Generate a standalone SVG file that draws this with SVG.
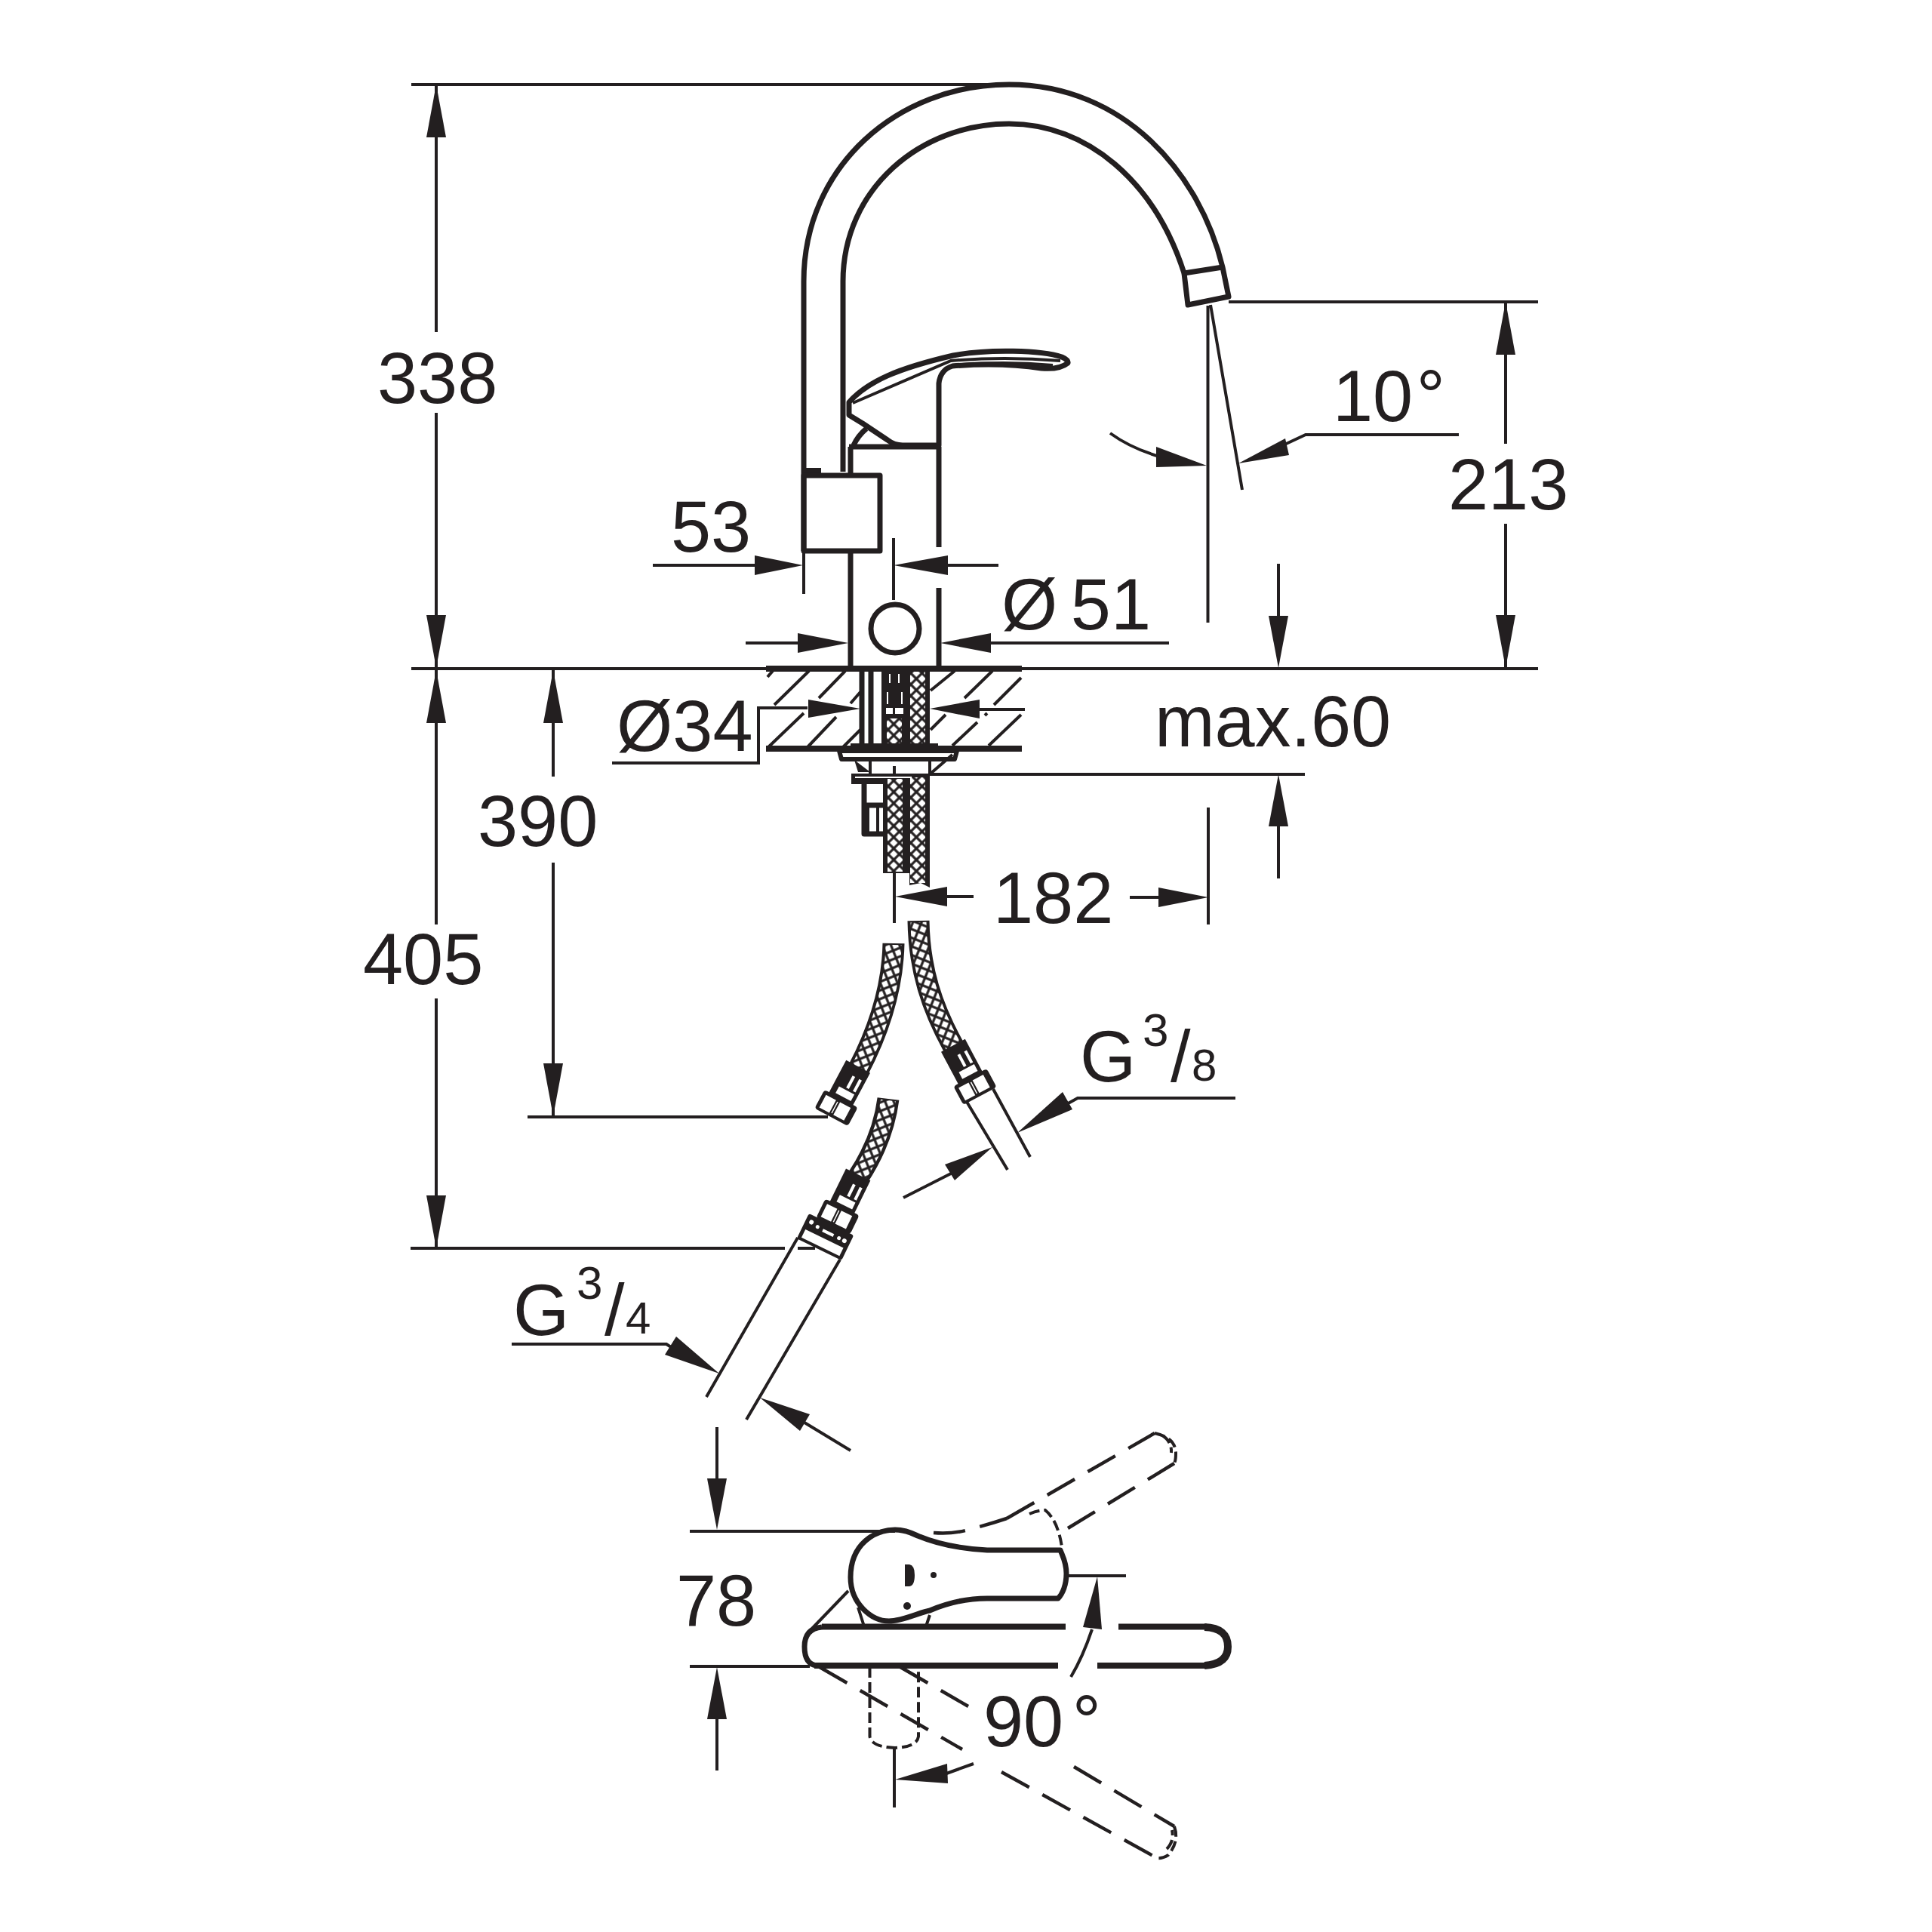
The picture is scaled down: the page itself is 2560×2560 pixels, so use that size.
<svg xmlns="http://www.w3.org/2000/svg" width="2560" height="2560" viewBox="0 0 2560 2560">
<style>
text{font-family:"Liberation Sans",Arial,sans-serif;font-size:95.5px;fill:#231f20}
.d{fill:none;stroke:#231f20;stroke-width:4}
.h{fill:none;stroke:#231f20;stroke-width:4}
.o{fill:none;stroke:#231f20;stroke-width:7;stroke-linejoin:round}
.t{fill:none;stroke:#231f20;stroke-width:8}
.w{fill:#fff;stroke:#231f20;stroke-width:6;stroke-linejoin:round}
.k{fill:#231f20;stroke:none}
.ds{fill:none;stroke:#231f20;stroke-width:4.5;stroke-dasharray:42 20}
.ds2{fill:none;stroke:#231f20;stroke-width:4;stroke-dasharray:14 6}
.hb{fill:none;stroke:#231f20;stroke-width:29}
.wt{fill:#fff}
</style>
<defs>
<pattern id="braid" width="10.6" height="10.6" patternUnits="userSpaceOnUse" patternTransform="rotate(45)"><rect x="1.6" y="1.6" width="7.4" height="7.4" fill="#fff"/></pattern>
<pattern id="braidA" width="10.6" height="10.6" patternUnits="userSpaceOnUse" patternTransform="rotate(68)"><rect x="1.6" y="1.6" width="7.4" height="7.4" fill="#fff"/></pattern>
<pattern id="braidB" width="10.6" height="10.6" patternUnits="userSpaceOnUse" patternTransform="rotate(22)"><rect x="1.6" y="1.6" width="7.4" height="7.4" fill="#fff"/></pattern>
<g id="fit">
<rect class="k" x="-18" y="-62" width="36" height="50"/>
<rect class="wt" x="-1" y="-48" width="4" height="18"/><rect class="wt" x="9" y="-48" width="4" height="18"/>
<rect class="wt" x="-10" y="-27" width="23" height="10"/>
<rect class="k" x="-25" y="-14" width="50" height="28" rx="4"/>
<rect class="wt" x="-20" y="-9" width="15" height="19"/><rect class="wt" x="1" y="-9" width="16" height="19"/>
<path d="M-2,-8V9" stroke="#fff" stroke-width="1.5"/>
</g>
</defs>
<rect width="2560" height="2560" fill="#fff"/>

<g id="spout">
<path class="o" d="M1065,730V373C1065,220 1190,112 1337,112C1490,112 1590,230 1620,354L1628,393L1574,404L1569,362"/>
<path class="o" d="M1117,625V373C1117,250 1220,164 1337,164C1440,164 1530,240 1569,362L1620,354"/>
<rect class="k" x="1067" y="620" width="21" height="10"/>
</g>
<g id="lever">
<path class="o" d="M1125,533C1150,505 1190,488 1263,471C1310,462 1380,464 1407,473Q1416,477 1415,481Q1404,490 1380,488C1340,482 1300,482 1262,485Q1246,490 1244,508V590H1196Q1185,590 1176,583L1143,561L1125,550Z"/>
<path class="d" d="M1130,534L1260,478Q1330,472 1405,478"/>
<path class="d" d="M1262,484Q1330,478 1395,484"/>
<path class="o" d="M1131,590Q1137,577 1148,568"/>
</g>
<g id="body">
<path class="o" d="M1125,592H1244M1127,592V627M1127,733V882M1244,592V725M1244,779V882"/>
<rect class="o" x="1065" y="630" width="101" height="100"/>
<circle class="o" cx="1186" cy="833" r="32"/>
</g>
<g id="deck">
<path class="d" d="M545,886H2038"/>
<path class="t" d="M1015,886H1354M1015,992H1354"/>
<path class="h" d="M1017,897L1024,889M1026,934L1072,889M1085,925L1120,889M1127,932L1140,917M1233,915L1265,889M1278,925L1315,889M1317,934L1353,898M1018,990L1065,945M1070,990L1108,950M1117,990L1140,967M1233,967L1253,947M1262,988L1295,957M1305,948L1308,945M1310,988L1353,947"/>
</g>
<g id="mount">
<path class="o" d="M1142,890V985M1154,890V985"/>
<rect class="k" x="1168" y="890" width="64" height="95"/>
<rect x="1206" y="890" width="20" height="95" fill="url(#braid)"/>
<rect x="1175" y="952" width="20" height="33" fill="url(#braid)"/>
<rect class="wt" x="1174" y="938" width="9" height="8"/><rect class="wt" x="1186" y="938" width="11" height="8"/>
<path d="M1179,893V905M1191,893V905M1176,917V933M1195,917V933" stroke="#fff" stroke-width="2"/>
<rect class="k" x="1127" y="985" width="116" height="10"/>
<path class="w" d="M1112,995H1268L1265,1006H1115Z"/>
<path class="d" d="M1153,1006V1025M1232,1006V1025M1262,1000L1233,1025M1185,1015V1025"/>
<path class="k" d="M1132,1007L1153,1023H1137Z"/>
<rect class="k" x="1128" y="1025" width="104" height="14"/>
<path d="M1133,1030H1208" stroke="#fff" stroke-width="2"/>
<rect class="k" x="1170" y="1039" width="62" height="118"/>
<path class="k" d="M1205,1157H1232V1176L1220,1170L1205,1173Z"/>
<rect x="1176" y="1032" width="20" height="123" fill="url(#braid)"/>
<rect x="1206" y="1030" width="20" height="140" fill="url(#braid)"/>
<path class="o" d="M1145,1039V1067H1170M1145,1067V1105H1170"/>
<path class="d" d="M1150,1069V1104M1163,1069V1104"/>
</g>
<g id="hose-a">
<path class="hb" d="M1184,1250C1183,1300 1170,1355 1137,1418"/>
<path d="M1184,1252C1183,1300 1170,1355 1137,1418" fill="none" stroke="url(#braidA)" stroke-width="21"/>
<use href="#fit" transform="translate(1108,1468) rotate(28)"/>
</g>
<g id="hose-b">
<path class="hb" d="M1217,1220C1218,1285 1235,1335 1263,1386"/>
<path d="M1217,1222C1218,1285 1235,1335 1263,1386" fill="none" stroke="url(#braidB)" stroke-width="21"/>
<use href="#fit" transform="translate(1292,1440) rotate(-28)"/>
<path class="d" d="M1281,1460L1335,1550M1316,1443L1365,1533"/>
</g>
<g id="hose-c">
<path class="hb" d="M1177,1456C1172,1495 1158,1528 1137,1560"/>
<path d="M1177,1458C1172,1495 1158,1528 1137,1560" fill="none" stroke="url(#braidA)" stroke-width="20"/>
<use href="#fit" transform="translate(1110,1612) rotate(26)"/>
<g transform="translate(1110,1612) rotate(26)">
<rect class="k" x="-36" y="13" width="66" height="37" rx="3"/>
<rect class="wt" x="-31" y="34" width="56" height="12"/>
<circle class="wt" cx="-28" cy="22" r="3"/><circle class="wt" cx="-18" cy="24" r="2.5"/><rect class="wt" x="-10" y="23" width="16" height="4"/><circle class="wt" cx="14" cy="25" r="2.5"/><circle class="wt" cx="22" cy="25" r="3"/>
</g>
<path class="d" d="M1057,1640L936,1851M1113,1669L989,1881"/>
</g>
<g id="top-view">
<path class="t" d="M1089,2155.5H1412M1482,2155.5H1599M1454,2207H1604M1402,2207H1079"/>
<path class="o" d="M1089,2156Q1066,2158 1066,2182Q1066,2205 1082,2207"/>
<path class="t" style="stroke-width:10" d="M1596,2156Q1627,2157 1627,2182Q1627,2205 1596,2207"/>
<path class="d" d="M1124,2108L1073,2161"/>
<path class="d" d="M1137,2130L1145,2155M1232,2140L1227,2155"/>
<path class="o" d="M1186,2027C1160,2027 1127,2045 1127,2090C1127,2125 1155,2148 1178,2148C1195,2148 1220,2136 1232,2134C1260,2122 1285,2118 1308,2118H1402C1408,2112 1413,2100 1413,2085C1413,2070 1408,2062 1405,2054H1308C1270,2052 1240,2045 1216,2035Q1200,2027 1186,2027Z"/>
<path class="k" d="M1199,2073H1205Q1212,2074 1212,2087Q1212,2101 1205,2102H1199Z"/>
<circle class="k" cx="1237" cy="2087" r="4"/><circle class="k" cx="1202" cy="2128" r="5"/>
<path class="d" d="M1415,2088H1492"/>
<path class="ds" d="M1237,2031Q1262,2033 1283,2027Q1310,2020 1334,2012M1334,2012L1530,1899"/>
<path class="ds" d="M1415,2025L1556,1939"/>
<path class="ds2" d="M1530,1899Q1558,1905 1558,1926Q1558,1935 1556,1939M1540,1902Q1553,1910 1552,1925"/>
<path class="ds2" d="M1364,2006Q1375,2001 1385,2001Q1402,2015 1407,2050"/>
<path class="ds" d="M1193,2209L1283,2261M1423,2341L1556,2420"/>
<path class="ds" d="M1086,2209L1275,2318M1327,2348L1533,2462"/>
<path class="ds2" d="M1556,2420Q1563,2440 1548,2458Q1540,2463 1533,2462M1546,2450Q1556,2440 1553,2425"/>
<path class="ds2" d="M1152.5,2209V2301Q1155,2315 1186,2316Q1215,2315 1217,2301V2209"/>
</g>
<g id="connectors">
<path class="d" d="M545,112H1337M578,112V440M578,547V886"/>
<polygon class="k" points="578,112 565,182 591,182"/><polygon class="k" points="578,885 565,815 591,815"/>
<path class="d" d="M578,888V1225M578,1323V1654M544,1654H1040M1057,1654H1080"/>
<polygon class="k" points="578,888 565,958 591,958"/><polygon class="k" points="578,1654 565,1584 591,1584"/>
<path class="d" d="M733,888V1029M733,1143V1480M699,1480H1097"/>
<polygon class="k" points="733,888 720,958 746,958"/><polygon class="k" points="733,1479 720,1409 746,1409"/>
<path class="d" d="M1628,400H2038M1995,400V588M1995,694V886"/>
<polygon class="k" points="1995,400 1982,470 2008,470"/><polygon class="k" points="1995,885 1982,815 2008,815"/>
<path class="d" d="M1600.5,405V825M1604,404L1646,649M1471,574Q1500,595 1540,606M1700,590L1730,576H1933"/>
<polygon class="k" points="1599,617 1532,592 1532,619"/><polygon class="k" points="1641,614 1703,581 1708,603"/>
<path class="d" d="M865,749H1000M1065,730V787M1184,713V795M1256,749H1323"/>
<polygon class="k" points="1064,749 1000,736 1000,762"/><polygon class="k" points="1184,749 1256,736 1256,762"/>
<path class="d" d="M988,852H1057M1313,852H1549"/>
<polygon class="k" points="1124,852 1057,839 1057,865"/><polygon class="k" points="1246,852 1313,839 1313,865"/>
<path class="d" d="M1694,747V816M1232,1026H1729M1694,1095V1164"/>
<polygon class="k" points="1694,885 1681,816 1707,816"/><polygon class="k" points="1694,1026 1681,1095 1707,1095"/>
<path class="d" d="M811,1011H1005V938H1070M1298,940H1358"/>
<polygon class="k" points="1140,939 1071,927 1071,951"/><polygon class="k" points="1232,939 1298,927 1298,952"/>
<path class="d" d="M1185,1157V1223M1255,1188H1290M1497,1189H1535M1601,1070V1225"/>
<polygon class="k" points="1186,1188 1255,1175 1255,1201"/><polygon class="k" points="1601,1189 1535,1176 1535,1202"/>
<path class="d" d="M1637,1455H1428L1410,1465M1197,1587L1262,1554"/>
<polygon class="k" points="1348,1501 1408,1447 1421,1470"/><polygon class="k" points="1315,1520 1252,1543 1265,1564"/>
<path class="d" d="M678,1781H883L900,1792M1127,1922L1066,1885"/>
<polygon class="k" points="953,1820 896,1771 881,1795"/><polygon class="k" points="1007,1852 1073,1874 1060,1896"/>
<path class="d" d="M950,1891V1960M914,2029H1186M914,2208H1073M950,2278V2346"/>
<polygon class="k" points="950,2027 937,1959 963,1959"/><polygon class="k" points="950,2209 937,2278 963,2278"/>
<path class="d" d="M1447,2159Q1435,2195 1419,2222M1185,2316V2395M1254,2350L1290,2337"/>
<polygon class="k" points="1454,2089 1435,2156 1460,2159"/><polygon class="k" points="1186,2358 1255,2337 1256,2363"/>
</g>
<g id="labels">
<text x="500" y="534">338</text>
<text x="481" y="1304">405</text>
<text x="633" y="1121">390</text>
<text x="1919" y="675">213</text>
<text x="1766" y="558" word-spacing="-22">10 °</text>
<text x="889" y="731">53</text>
<text x="1327" y="834" word-spacing="-9">Ø 51</text>
<text x="817" y="995">Ø34</text>
<text x="1530" y="989">max.60</text>
<text x="1316" y="1223">182</text>
<text x="1431" y="1433">G<tspan x="1514" y="1386" font-size="62">3</tspan><tspan x="1551" y="1433">/</tspan><tspan x="1579" y="1432" font-size="60">8</tspan></text>
<text x="680" y="1769">G<tspan x="764" y="1721" font-size="62">3</tspan><tspan x="801" y="1769">/</tspan><tspan x="829" y="1767" font-size="60">4</tspan></text>
<text x="896" y="2154">78</text>
<text x="1303" y="2314" word-spacing="-15">90 °</text>
</g>
</svg>
